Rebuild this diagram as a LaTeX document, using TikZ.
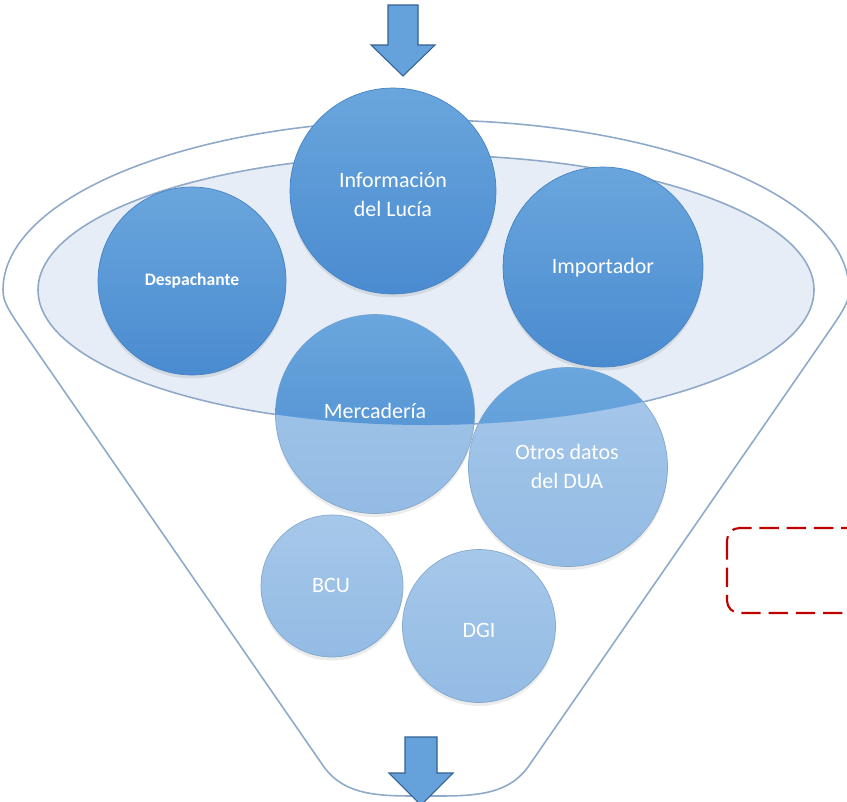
\documentclass[tikz,border=0pt]{standalone}
\usepackage{fontspec}
\setmainfont{Carlito}
\usetikzlibrary{shadows}
\definecolor{ballhi}{HTML}{6AA6DD}
\definecolor{balllo}{HTML}{4A8BD0}
\definecolor{palehi}{HTML}{A6C8EA}
\definecolor{palelo}{HTML}{93BBE4}
\definecolor{rimline}{HTML}{8FA9C9}
\definecolor{ringfill}{HTML}{E6EDF6}
\definecolor{boxred}{HTML}{C00000}
\begin{document}
\begin{tikzpicture}[x=.02cm,y=-.02cm,
        rim/.style={draw=rimline, line width=.9pt},
        ball/.style={circle, inner sep=0pt, top color=ballhi, bottom color=balllo, draw=balllo!80!black!30!balllo,
            drop shadow={opacity=.18, shadow xshift=0pt, shadow yshift=-2pt}},
        paleball/.style={circle, inner sep=0pt, top color=palehi, bottom color=palelo, draw=palelo!90!black,
            drop shadow={opacity=.15, shadow xshift=0pt, shadow yshift=-2pt}},
        txt/.style={text=white, align=center, font=\fontsize{12.5}{16.5}\selectfont},
        blockarrow/.style={fill=ballhi!85!balllo, draw=balllo!70!black, line width=.6pt, line join=miter},
        redbox/.style={draw=boxred, line width=1.2pt, dash pattern=on 11pt off 4.5pt, rounded corners=7pt}]
            \useasboundingbox (0,0) rectangle (847,801);
            % funnel
            \draw[rim, fill=white] (324,767) -- (40,356) .. controls (12,315) and (3,305) .. (3,290)
                arc[start angle=180, end angle=360, x radius=423, y radius=170]
                .. controls (849,305) and (840,315) .. (812,356)
                -- (528,767) .. controls (506,797) and (470,796) .. (426,796) .. controls (382,796) and (346,797) .. (324,767) -- cycle;
            \draw[rim, fill=ringfill] (426,290) ellipse [x radius=388, y radius=135];
            % lower balls
            \node[paleball, minimum size=3.98cm] (merc) at (375,414) {};
            \node[paleball, minimum size=3.98cm] (otros) at (568,467) {};
            \node[paleball, minimum size=2.84cm] (bcu) at (332,586) {};
            \node[paleball, minimum size=3.06cm] (dgi) at (479,626) {};
            \begin{scope}
                \clip (426,290) ellipse [x radius=388, y radius=135];
                \shade[top color=ballhi, bottom color=balllo] (merc.center) circle [radius=1.99cm];
                \shade[top color=ballhi, bottom color=balllo!85!palelo] (otros.center) circle [radius=1.99cm];
            \end{scope}
            % upper balls
            \node[ball, minimum size=4.12cm] (info) at (393,191) {};
            \node[ball, minimum size=3.76cm] (desp) at (192,281) {};
            \node[ball, minimum size=4cm] (impo) at (603,267) {};
            % labels
            \node[txt] (infotxt) at (393,195) {Información\\del Lucía};
            \node[txt, font=\bfseries\fontsize{10}{12}\selectfont] (desptxt) at (192,281) {Despachante};
            \node[txt] (impotxt) at (603,268) {Importador};
            \node[txt] (merctxt) at (375,411) {Mercadería};
            \node[txt] (otrostxt) at (567,466) {Otros datos\\del DUA};
            \node[txt] (bcutxt) at (331,585) {BCU};
            \node[txt] (dgitxt) at (479,630) {DGI};
            % arrows in and out
            \draw[blockarrow] (388,5) -- (418,5) -- (418,45) -- (435,45) -- (403,76) -- (371,45) -- (388,45) -- cycle;
            \draw[blockarrow] (405,737) -- (437,737) -- (437,773) -- (453,773) -- (421,805) -- (389,773) -- (405,773) -- cycle;
            \draw[redbox] (727,528) rectangle (900,613);
        \end{tikzpicture}
\end{document}
